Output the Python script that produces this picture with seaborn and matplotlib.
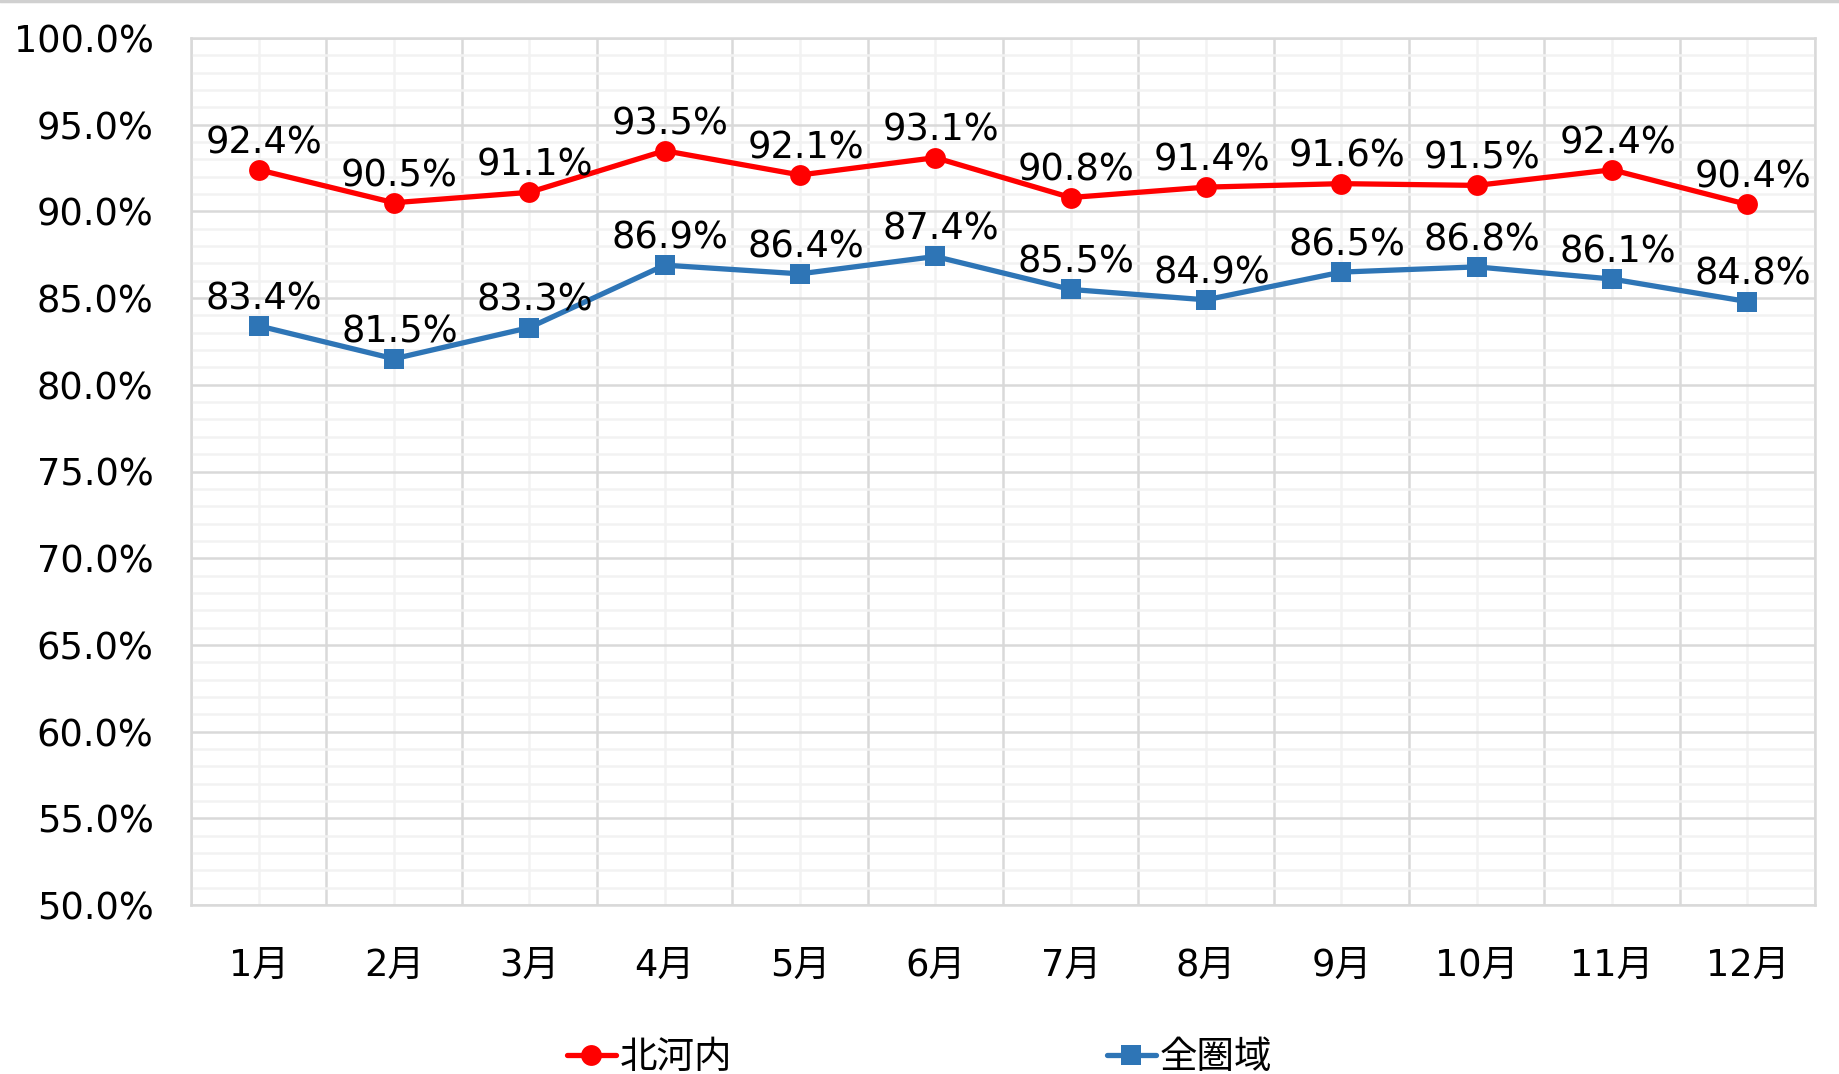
import matplotlib
matplotlib.use("Agg")
import matplotlib.pyplot as plt
import seaborn as sns
import pandas as pd
from matplotlib.ticker import MultipleLocator, FixedLocator, FuncFormatter
from matplotlib.lines import Line2D

# dati
mesi = ["1月", "2月", "3月", "4月", "5月", "6月", "7月", "8月", "9月", "10月", "11月", "12月"]
kitakawachi = [92.4, 90.5, 91.1, 93.5, 92.1, 93.1, 90.8, 91.4, 91.6, 91.5, 92.4, 90.4]
zenkeniki = [83.4, 81.5, 83.3, 86.9, 86.4, 87.4, 85.5, 84.9, 86.5, 86.8, 86.1, 84.8]
nomi_serie = ["北河内", "全圏域"]
colori = ["#FF0000", "#2E75B6"]
marcatori = ["o", "s"]
dim_marcatori = [15, 14]

sns.set_style("white")
plt.rcParams["font.family"] = ["DejaVu Sans", "Noto Sans CJK JP"]
plt.rcParams["text.color"] = "black"
plt.rcParams["xtick.color"] = "black"
plt.rcParams["ytick.color"] = "black"

df = pd.DataFrame({"mese": mesi * 2,
                   "pos": list(range(len(mesi))) * 2,
                   "valore": kitakawachi + zenkeniki,
                   "serie": [nomi_serie[0]] * len(mesi) + [nomi_serie[1]] * len(mesi)})

fig = plt.figure(figsize=(18.39, 10.74), dpi=100)
ax = fig.add_axes([191 / 1839, 1 - 905 / 1074, (1815 - 191) / 1839, (905 - 38) / 1074])

for nome, colore, marc, ms in zip(nomi_serie, colori, marcatori, dim_marcatori):
    sub = df[df["serie"] == nome]
    sns.lineplot(data=sub, x="pos", y="valore", ax=ax, color=colore, linewidth=3.8,
                 marker=marc, markersize=ms, markeredgewidth=0, label=nome, legend=False)
    for x, y in zip(sub["pos"], sub["valore"]):
        ax.annotate(f"{y:.1f}%", (x, y), xytext=(4, 12), textcoords="offset points",
                    ha="center", va="baseline", fontsize=26.5, color="black")

ax.set_xlim(-0.5, len(mesi) - 0.5)
ax.set_ylim(50, 100)
ax.xaxis.set_major_locator(FixedLocator(range(len(mesi))))
ax.set_xticklabels(mesi)
ax.xaxis.set_minor_locator(FixedLocator([i - 0.5 for i in range(len(mesi) + 1)]))
ax.yaxis.set_major_locator(MultipleLocator(5))
ax.yaxis.set_minor_locator(MultipleLocator(1))
ax.yaxis.set_major_formatter(FuncFormatter(lambda v, p: f"{v:.1f}%"))

ax.yaxis.grid(True, which="major", color="#D9D9D9", linewidth=1.8)
ax.yaxis.grid(True, which="minor", color="#F2F2F2", linewidth=1.8)
ax.xaxis.grid(True, which="major", color="#F2F2F2", linewidth=1.8)
ax.xaxis.grid(True, which="minor", color="#D9D9D9", linewidth=1.8)
ax.set_axisbelow(True)
for s in ax.spines.values():
    s.set_color("#D9D9D9")
    s.set_linewidth(1.8)

ax.tick_params(axis="both", which="both", length=0, labelsize=26.5)
ax.tick_params(axis="y", pad=27)
ax.tick_params(axis="x", pad=30)
ax.set_xlabel("")
ax.set_ylabel("")

fig.legend(loc="center", bbox_to_anchor=(0.5, 1 - 1058 / 1074), ncol=2, frameon=False,
           fontsize=27, handlelength=1.3, handletextpad=0.1, columnspacing=10)

# bordo grigio in alto
fig.add_artist(Line2D([0, 1], [0.999, 0.999], transform=fig.transFigure, color="#D0D0D0", linewidth=2.5))

fig.savefig("out.png", dpi=100)
